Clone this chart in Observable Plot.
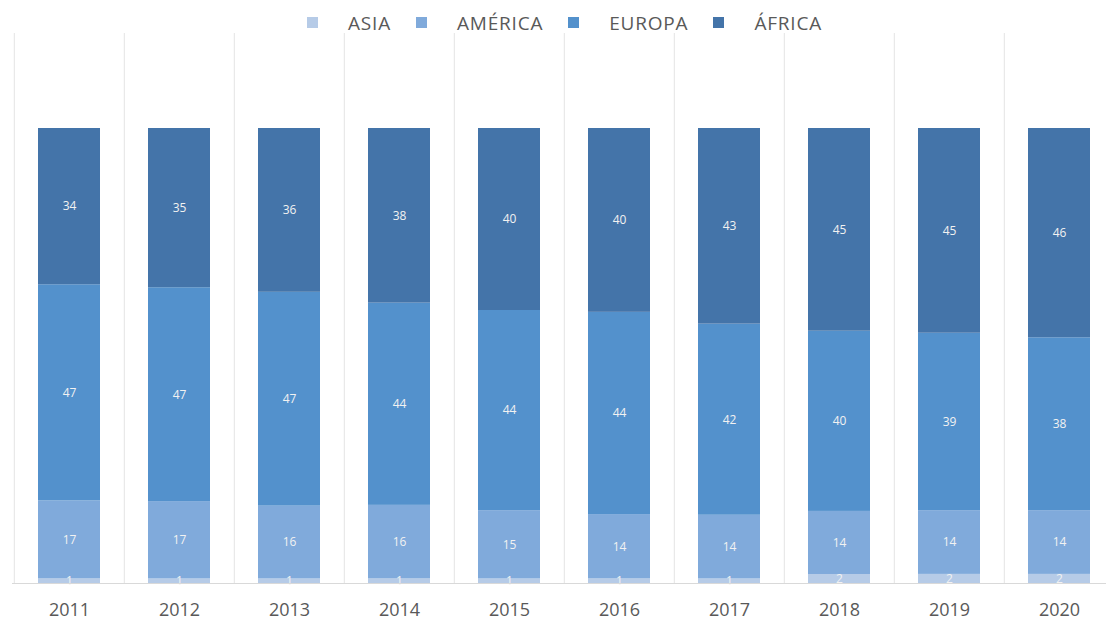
<!DOCTYPE html>
<html><head><meta charset="utf-8">
<script src="https://cdn.jsdelivr.net/npm/d3@7"></script>
<script src="https://cdn.jsdelivr.net/npm/@observablehq/plot@0.6"></script>
<style>
html,body{margin:0;padding:0;background:#fff;}
body{width:1106px;height:621px;overflow:hidden;font-family:"Open Sans",sans-serif;}
#legend{height:33px;display:flex;justify-content:flex-start;align-items:center;padding-left:307px;padding-top:12px;box-sizing:border-box;color:#595959;font-size:19px;letter-spacing:0.8px;}
#legend .item{display:flex;align-items:center;margin-right:25px;}
#legend .sw{width:11px;height:11px;margin-right:30px;}
#chart svg{display:block;max-width:none !important;height:588px !important;}
</style></head><body>
<div id="legend"></div>
<div id="chart"></div>
<script>
const years = ["2011","2012","2013","2014","2015","2016","2017","2018","2019","2020"];
const regions = ["ASIA","AMÉRICA","EUROPA","ÁFRICA"];
const asia    = [1,1,1,1,1,1,1,2,2,2];
const america = [17,17,16,16,15,14,14,14,14,14];
const europa  = [47,47,47,44,44,44,42,40,39,38];
const africa  = [34,35,36,38,40,40,43,45,45,46];
const colors  = ["#b6cbe7","#80aadb","#5391cc","#4474a9"];

const series = [asia, america, europa, africa];
const data = [];
years.forEach((y, i) => regions.forEach((r, j) => data.push({year: y, region: r, value: series[j][i]})));

// legend
const legend = document.getElementById("legend");
regions.forEach((r, j) => {
  const it = document.createElement("div"); it.className = "item";
  const sw = document.createElement("span"); sw.className = "sw"; sw.style.background = colors[j];
  const tx = document.createElement("span"); tx.textContent = r;
  it.append(sw, tx); legend.append(it);
});

const plot = Plot.plot({
  width: 1116, height: 588,
  marginLeft: 12, marginRight: 0, marginTop: 0, marginBottom: 38,
  style: {fontFamily: "'Open Sans', sans-serif", background: "#fff", maxWidth: "none"},
  x: {domain: years, paddingInner: 0.44, paddingOuter: 0.22, axis: null},
  y: {domain: [0, 1], range: [550, 95], axis: null},
  color: {domain: regions, range: colors},
  marks: [
    Plot.ruleX(years, {x: d => d, dx: -55.2, stroke: "#e4e4e4", strokeWidth: 1}),
    Plot.barY(data, {x: "year", y: "value", fill: "region", offset: "normalize"}),
    Plot.text(data, Plot.stackY({x: "year", y: "value", z: "region", offset: "normalize",
      text: d => String(d.value), fill: "#f2f2f2", fontSize: 12})),
    Plot.ruleY([0], {stroke: "#d9d9d9"}),
    Plot.axisX({tickSize: 0, tickPadding: 20, fontSize: 18, fill: "#595959", letterSpacing: 1.5, label: null})
  ]
});
document.getElementById("chart").append(plot);
</script>
</body></html>
